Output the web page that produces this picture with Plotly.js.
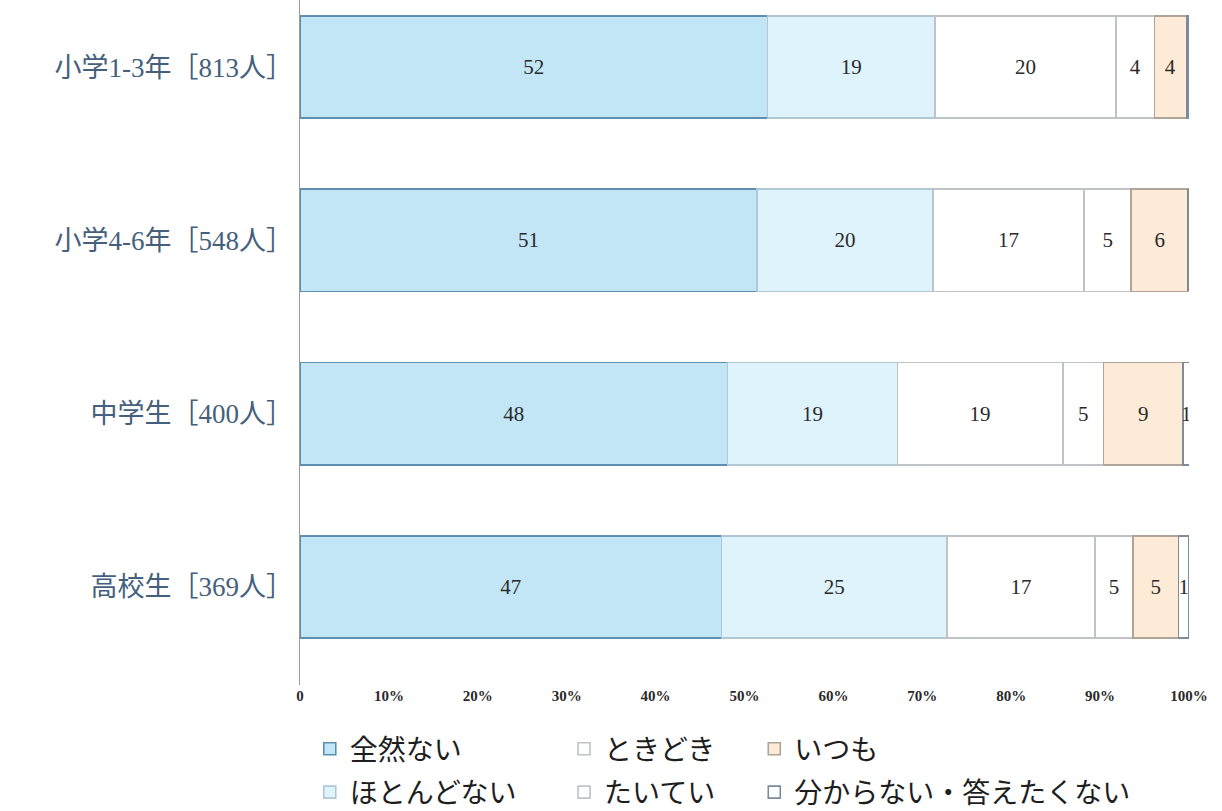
<!DOCTYPE html>
<html>
<head>
<meta charset="utf-8">
<script src="https://cdn.plot.ly/plotly-3.0.1.min.js"></script>
<style>html,body{margin:0;padding:0;background:#fff;}#chart{width:1222px;height:811px;}</style>
</head>
<body>
<div id="chart"></div>
<script>
// Categories (top to bottom)
const categories = ['小学1-3年［813人］', '小学4-6年［548人］', '中学生［400人］', '高校生［369人］'];
const seriesNames = ['全然ない', 'ほとんどない', 'ときどき', 'たいてい', 'いつも', '分からない・答えたくない'];

// Segment sizes (%)
const zenzen   = [52.6, 51.4, 48.1, 47.4];
const hotondo  = [18.8, 19.8, 19.1, 25.4];
const tokidoki = [20.4, 17.0, 18.6, 16.6];
const taitei   = [4.3, 5.3, 4.6, 4.3];
const itsumo   = [3.6, 6.4, 8.9, 5.1];
const wakaranai = [0.2, 0.0, 0.8, 1.2];

// Printed labels
const zenzenLbl   = ['52', '51', '48', '47'];
const hotondoLbl  = ['19', '20', '19', '25'];
const tokidokiLbl = ['20', '17', '19', '17'];
const taiteiLbl   = ['4', '5', '5', '5'];
const itsumoLbl   = ['4', '6', '9', '5'];
const wakaranaiLbl = ['', '', '1', '1'];

const xTickVals = [0, 10, 20, 30, 40, 50, 60, 70, 80, 90, 100];
const xTickText = ['0', '10%', '20%', '30%', '40%', '50%', '60%', '70%', '80%', '90%', '100%'];

const values = [zenzen, hotondo, tokidoki, taitei, itsumo, wakaranai];
const labels = [zenzenLbl, hotondoLbl, tokidokiLbl, taiteiLbl, itsumoLbl, wakaranaiLbl];
const fills = ['#c2e6f6', '#def3fb', '#ffffff', '#ffffff', '#fdebd7', '#ffffff'];
const edges = ['#5f8fb0', '#b0c8d4', '#bfc3c7', '#bfc3c7', '#b0a398', '#7d8c9c'];
const legendIds = ['legend', 'legend', 'legend2', 'legend2', 'legend3', 'legend3'];

const serif = '"Liberation Serif", "DejaVu Serif", "Noto Sans CJK JP", serif';

const traces = seriesNames.map((name, i) => ({
  type: 'bar',
  orientation: 'h',
  name: name,
  y: categories,
  x: values[i],
  text: labels[i],
  textposition: 'inside',
  insidetextanchor: 'middle',
  textangle: 0,
  constraintext: 'none',
  textfont: {family: serif, size: 21, color: '#2a2a2a'},
  marker: {color: fills[i], line: {color: edges[i], width: 1.6}},
  legend: legendIds[i],
  legendgroup: 'g' + i,
  hoverinfo: 'skip'
}));

const legendFont = {family: '"Noto Sans CJK JP", sans-serif', size: 28, color: '#1e1e1e'};
const legendBase = {
  orientation: 'v', yanchor: 'top', xanchor: 'left',
  font: legendFont, bgcolor: 'rgba(0,0,0,0)', borderwidth: 0,
  traceorder: 'grouped', tracegroupgap: 4, itemwidth: 30
};

const layout = {
  width: 1222, height: 811,
  margin: {l: 300, r: 33, t: 0, b: 126, autoexpand: false},
  paper_bgcolor: '#fff', plot_bgcolor: '#fff',
  barmode: 'stack',
  bargap: 0.41,
  showlegend: true,
  xaxis: {
    range: [0, 100], autorange: false,
    tickvals: xTickVals, ticktext: xTickText,
    showgrid: false, zeroline: false, showline: false, ticks: '',
    tickfont: {family: serif, size: 15, color: '#2a2a2a', weight: 'bold'},
    fixedrange: true
  },
  yaxis: {
    type: 'category',
    categoryorder: 'array', categoryarray: categories,
    range: [3.566, -0.387], autorange: false,
    showgrid: false, zeroline: false,
    showline: true, linecolor: '#9a9a9a', linewidth: 1.5,
    ticks: '', ticklabelstandoff: 0,
    tickfont: {family: serif, size: 27, color: '#44607c'},
    fixedrange: true
  },
  legend: Object.assign({}, legendBase, {x: 0.011, y: -0.057}),
  legend2: Object.assign({}, legendBase, {x: 0.297, y: -0.057}),
  legend3: Object.assign({}, legendBase, {x: 0.511, y: -0.057})
};

Plotly.newPlot('chart', traces, layout, {displayModeBar: false, staticPlot: true});
</script>
</body>
</html>
